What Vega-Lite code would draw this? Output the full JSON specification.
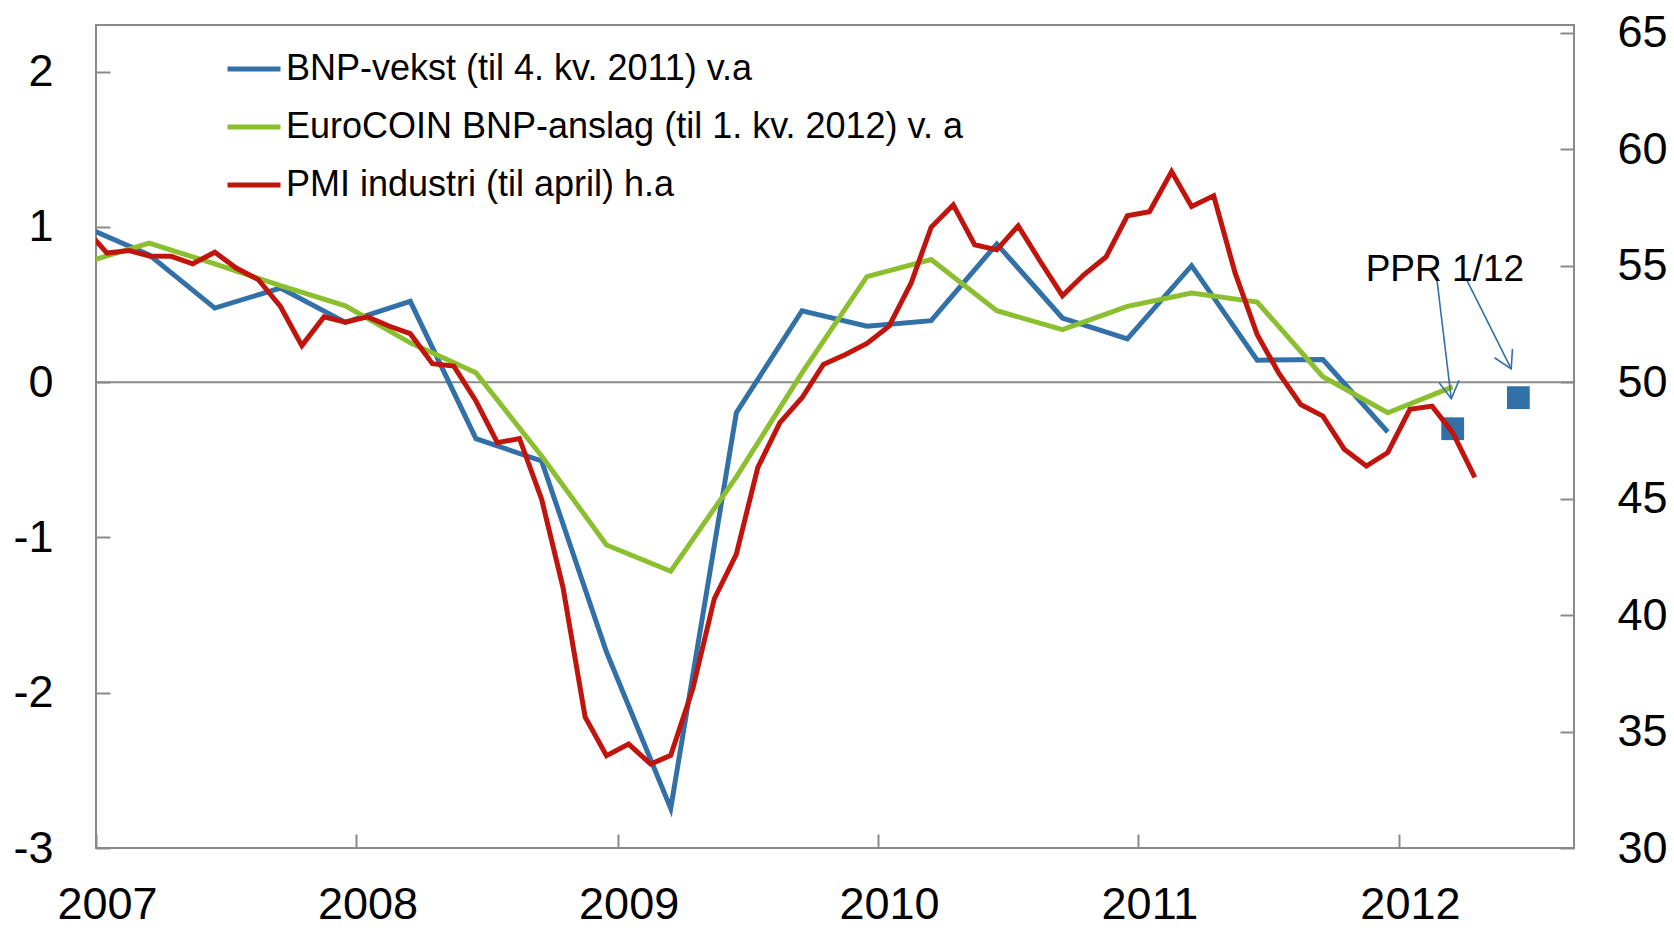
{
  "$schema": "https://vega.github.io/schema/vega-lite/v6.json",
  "width": 1478,
  "height": 823,
  "autosize": {"type": "none"},
  "padding": {"left": 96, "top": 25, "right": 100, "bottom": 80},
  "background": "white",
  "config": {
    "view": {"stroke": "#8a8a8a", "strokeWidth": 2},
    "font": "Liberation Sans",
    "axis": {
      "labelFont": "Liberation Sans",
      "labelFontSize": 45,
      "labelColor": "#000000",
      "tickColor": "#8a8a8a",
      "tickWidth": 2,
      "tickSize": -14,
      "domain": false,
      "grid": false,
      "labelFlush": false,
      "labelOverlap": false,
      "labelBound": false
    }
  },
  "datasets": {
    "gdp": [
      {"date": "2006-12-01", "series": "BNP-vekst (til 4. kv. 2011) v.a", "v": 1.0},
      {"date": "2007-03-01", "series": "BNP-vekst (til 4. kv. 2011) v.a", "v": 0.82},
      {"date": "2007-06-01", "series": "BNP-vekst (til 4. kv. 2011) v.a", "v": 0.477},
      {"date": "2007-09-01", "series": "BNP-vekst (til 4. kv. 2011) v.a", "v": 0.606},
      {"date": "2007-12-01", "series": "BNP-vekst (til 4. kv. 2011) v.a", "v": 0.385},
      {"date": "2008-03-01", "series": "BNP-vekst (til 4. kv. 2011) v.a", "v": 0.52},
      {"date": "2008-06-01", "series": "BNP-vekst (til 4. kv. 2011) v.a", "v": -0.364},
      {"date": "2008-09-01", "series": "BNP-vekst (til 4. kv. 2011) v.a", "v": -0.507},
      {"date": "2008-12-01", "series": "BNP-vekst (til 4. kv. 2011) v.a", "v": -1.738},
      {"date": "2009-03-01", "series": "BNP-vekst (til 4. kv. 2011) v.a", "v": -2.745},
      {"date": "2009-06-01", "series": "BNP-vekst (til 4. kv. 2011) v.a", "v": -0.197},
      {"date": "2009-09-01", "series": "BNP-vekst (til 4. kv. 2011) v.a", "v": 0.46},
      {"date": "2009-12-01", "series": "BNP-vekst (til 4. kv. 2011) v.a", "v": 0.36},
      {"date": "2010-03-01", "series": "BNP-vekst (til 4. kv. 2011) v.a", "v": 0.396},
      {"date": "2010-06-01", "series": "BNP-vekst (til 4. kv. 2011) v.a", "v": 0.89},
      {"date": "2010-09-01", "series": "BNP-vekst (til 4. kv. 2011) v.a", "v": 0.413},
      {"date": "2010-12-01", "series": "BNP-vekst (til 4. kv. 2011) v.a", "v": 0.279},
      {"date": "2011-03-01", "series": "BNP-vekst (til 4. kv. 2011) v.a", "v": 0.75},
      {"date": "2011-06-01", "series": "BNP-vekst (til 4. kv. 2011) v.a", "v": 0.141},
      {"date": "2011-09-01", "series": "BNP-vekst (til 4. kv. 2011) v.a", "v": 0.146},
      {"date": "2011-12-01", "series": "BNP-vekst (til 4. kv. 2011) v.a", "v": -0.321},
      {"date": "2006-12-01", "series": "EuroCOIN BNP-anslag (til 1. kv. 2012) v. a", "v": 0.77},
      {"date": "2007-03-01", "series": "EuroCOIN BNP-anslag (til 1. kv. 2012) v. a", "v": 0.895},
      {"date": "2007-06-01", "series": "EuroCOIN BNP-anslag (til 1. kv. 2012) v. a", "v": 0.762},
      {"date": "2007-09-01", "series": "EuroCOIN BNP-anslag (til 1. kv. 2012) v. a", "v": 0.621},
      {"date": "2007-12-01", "series": "EuroCOIN BNP-anslag (til 1. kv. 2012) v. a", "v": 0.492},
      {"date": "2008-03-01", "series": "EuroCOIN BNP-anslag (til 1. kv. 2012) v. a", "v": 0.253},
      {"date": "2008-06-01", "series": "EuroCOIN BNP-anslag (til 1. kv. 2012) v. a", "v": 0.06},
      {"date": "2008-09-01", "series": "EuroCOIN BNP-anslag (til 1. kv. 2012) v. a", "v": -0.475},
      {"date": "2008-12-01", "series": "EuroCOIN BNP-anslag (til 1. kv. 2012) v. a", "v": -1.049},
      {"date": "2009-03-01", "series": "EuroCOIN BNP-anslag (til 1. kv. 2012) v. a", "v": -1.218},
      {"date": "2009-06-01", "series": "EuroCOIN BNP-anslag (til 1. kv. 2012) v. a", "v": -0.61},
      {"date": "2009-09-01", "series": "EuroCOIN BNP-anslag (til 1. kv. 2012) v. a", "v": 0.06},
      {"date": "2009-12-01", "series": "EuroCOIN BNP-anslag (til 1. kv. 2012) v. a", "v": 0.68},
      {"date": "2010-03-01", "series": "EuroCOIN BNP-anslag (til 1. kv. 2012) v. a", "v": 0.79},
      {"date": "2010-06-01", "series": "EuroCOIN BNP-anslag (til 1. kv. 2012) v. a", "v": 0.46},
      {"date": "2010-09-01", "series": "EuroCOIN BNP-anslag (til 1. kv. 2012) v. a", "v": 0.338},
      {"date": "2010-12-01", "series": "EuroCOIN BNP-anslag (til 1. kv. 2012) v. a", "v": 0.488},
      {"date": "2011-03-01", "series": "EuroCOIN BNP-anslag (til 1. kv. 2012) v. a", "v": 0.574},
      {"date": "2011-06-01", "series": "EuroCOIN BNP-anslag (til 1. kv. 2012) v. a", "v": 0.516},
      {"date": "2011-09-01", "series": "EuroCOIN BNP-anslag (til 1. kv. 2012) v. a", "v": 0.035},
      {"date": "2011-12-01", "series": "EuroCOIN BNP-anslag (til 1. kv. 2012) v. a", "v": -0.197},
      {"date": "2012-03-01", "series": "EuroCOIN BNP-anslag (til 1. kv. 2012) v. a", "v": -0.03}
    ],
    "pmi": [
      {"date": "2006-12-01", "v": 56.6},
      {"date": "2007-01-01", "v": 55.54},
      {"date": "2007-02-01", "v": 55.65},
      {"date": "2007-03-01", "v": 55.42},
      {"date": "2007-04-01", "v": 55.4},
      {"date": "2007-05-01", "v": 55.08},
      {"date": "2007-06-01", "v": 55.58},
      {"date": "2007-07-01", "v": 54.9},
      {"date": "2007-08-01", "v": 54.4},
      {"date": "2007-09-01", "v": 53.25},
      {"date": "2007-10-01", "v": 51.57},
      {"date": "2007-11-01", "v": 52.8},
      {"date": "2007-12-01", "v": 52.57},
      {"date": "2008-01-01", "v": 52.8},
      {"date": "2008-02-01", "v": 52.4},
      {"date": "2008-03-01", "v": 52.08},
      {"date": "2008-04-01", "v": 50.79},
      {"date": "2008-05-01", "v": 50.69},
      {"date": "2008-06-01", "v": 49.19},
      {"date": "2008-07-01", "v": 47.4},
      {"date": "2008-08-01", "v": 47.58},
      {"date": "2008-09-01", "v": 44.98},
      {"date": "2008-10-01", "v": 41.19},
      {"date": "2008-11-01", "v": 35.63},
      {"date": "2008-12-01", "v": 33.96},
      {"date": "2009-01-01", "v": 34.46},
      {"date": "2009-02-01", "v": 33.6},
      {"date": "2009-03-01", "v": 33.98},
      {"date": "2009-04-01", "v": 36.84},
      {"date": "2009-05-01", "v": 40.69},
      {"date": "2009-06-01", "v": 42.62},
      {"date": "2009-07-01", "v": 46.33},
      {"date": "2009-08-01", "v": 48.26},
      {"date": "2009-09-01", "v": 49.33},
      {"date": "2009-10-01", "v": 50.76},
      {"date": "2009-11-01", "v": 51.19},
      {"date": "2009-12-01", "v": 51.66},
      {"date": "2010-01-01", "v": 52.4},
      {"date": "2010-02-01", "v": 54.26},
      {"date": "2010-03-01", "v": 56.65},
      {"date": "2010-04-01", "v": 57.61},
      {"date": "2010-05-01", "v": 55.9},
      {"date": "2010-06-01", "v": 55.68},
      {"date": "2010-07-01", "v": 56.71},
      {"date": "2010-08-01", "v": 55.18},
      {"date": "2010-09-01", "v": 53.71},
      {"date": "2010-10-01", "v": 54.61},
      {"date": "2010-11-01", "v": 55.37},
      {"date": "2010-12-01", "v": 57.14},
      {"date": "2011-01-01", "v": 57.32},
      {"date": "2011-02-01", "v": 59.04},
      {"date": "2011-03-01", "v": 57.54},
      {"date": "2011-04-01", "v": 58.0},
      {"date": "2011-05-01", "v": 54.69},
      {"date": "2011-06-01", "v": 52.04},
      {"date": "2011-07-01", "v": 50.4},
      {"date": "2011-08-01", "v": 49.04},
      {"date": "2011-09-01", "v": 48.54},
      {"date": "2011-10-01", "v": 47.12},
      {"date": "2011-11-01", "v": 46.4},
      {"date": "2011-12-01", "v": 46.98},
      {"date": "2012-01-01", "v": 48.83},
      {"date": "2012-02-01", "v": 48.97},
      {"date": "2012-03-01", "v": 47.83},
      {"date": "2012-04-01", "v": 45.91}
    ],
    "ppr": [
      {"date": "2012-03-01", "v": -0.3},
      {"date": "2012-06-01", "v": -0.1}
    ],
    "arrows": [
      {"id": "a1", "date": "2012-02-08", "v": 0.655, "date2": "2012-02-28", "v2": -0.107},
      {"id": "a2", "date": "2012-03-21", "v": 0.655, "date2": "2012-05-22", "v2": 0.086}
    ],
    "note": [
      {"date": "2011-10-31", "v": 0.649, "label": "PPR 1/12"}
    ]
  },
  "resolve": {"scale": {"y": "independent"}},
  "layer": [
    {
      "data": {"values": [{}]},
      "mark": {"type": "rule", "color": "#8a8a8a", "strokeWidth": 2},
      "encoding": {
        "y": {"datum": 0, "type": "quantitative", "scale": {"domain": [-3, 2.3], "nice": false, "zero": false}, "axis": null}
      }
    },
    {
      "data": {"name": "gdp"},
      "mark": {"type": "line", "strokeWidth": 5, "clip": true},
      "encoding": {
        "x": {
          "field": "date", "type": "temporal", "title": null,
          "scale": {"type": "utc", "domain": [{"year": 2006, "month": 12, "date": 16, "hours": 12, "utc": true}, {"year": 2012, "month": 8, "date": 18, "utc": true}]},
          "axis": {
            "orient": "bottom",
            "values": [
              {"year": 2007, "month": 1, "date": 1, "utc": true},
              {"year": 2008, "month": 1, "date": 1, "utc": true},
              {"year": 2009, "month": 1, "date": 1, "utc": true},
              {"year": 2010, "month": 1, "date": 1, "utc": true},
              {"year": 2011, "month": 1, "date": 1, "utc": true},
              {"year": 2012, "month": 1, "date": 1, "utc": true}
            ],
            "format": "%Y",
            "tickOffset": -11,
            "labelOffset": 11,
            "labelBaseline": "alphabetic",
            "labelAlign": "center",
            "labelPadding": 84
          }
        },
        "y": {
          "field": "v", "type": "quantitative", "title": null,
          "scale": {"domain": [-3, 2.3], "nice": false, "zero": false},
          "axis": {"orient": "left", "values": [-3, -2, -1, 0, 1, 2], "labelExpr": "'' + datum.value", "labelPadding": 57, "labelBaseline": "middle"}
        },
        "color": {
          "field": "series", "type": "nominal",
          "scale": {
            "domain": ["BNP-vekst (til 4. kv. 2011) v.a", "EuroCOIN BNP-anslag (til 1. kv. 2012) v. a", "PMI industri (til april) h.a"],
            "range": ["#3270A8", "#8CBF2F", "#C0140C"]
          },
          "legend": {
            "title": null,
            "orient": "none",
            "legendX": 129,
            "legendY": 15,
            "direction": "vertical",
            "symbolType": "stroke",
            "symbolSize": 2809,
            "symbolStrokeWidth": 5,
            "labelFont": "Liberation Sans",
            "labelFontSize": 36,
            "labelColor": "#000000",
            "labelOffset": 3,
            "labelLimit": 1200,
            "rowPadding": 11,
            "padding": 0
          }
        }
      }
    },
    {
      "data": {"name": "ppr"},
      "mark": {"type": "point", "shape": "square", "filled": true, "size": 520, "opacity": 1, "color": "#3270A8"},
      "encoding": {
        "x": {"field": "date", "type": "temporal", "title": null, "scale": {"type": "utc", "domain": [{"year": 2006, "month": 12, "date": 16, "hours": 12, "utc": true}, {"year": 2012, "month": 8, "date": 18, "utc": true}]}},
        "y": {"field": "v", "type": "quantitative", "axis": null, "scale": {"domain": [-3, 2.3], "nice": false, "zero": false}}
      }
    },
    {
      "data": {"name": "arrows"},
      "mark": {"type": "rule", "color": "#3270A8", "strokeWidth": 1.6},
      "encoding": {
        "x": {"field": "date", "type": "temporal", "title": null, "scale": {"type": "utc", "domain": [{"year": 2006, "month": 12, "date": 16, "hours": 12, "utc": true}, {"year": 2012, "month": 8, "date": 18, "utc": true}]}},
        "x2": {"field": "date2"},
        "y": {"field": "v", "type": "quantitative", "axis": null, "scale": {"domain": [-3, 2.3], "nice": false, "zero": false}},
        "y2": {"field": "v2"}
      }
    },
    {
      "data": {"name": "arrows"},
      "transform": [{"filter": "datum.id === 'a1'"}],
      "mark": {"type": "point", "shape": "M-0.5,-0.866L0,0L0.5,-0.866", "filled": false, "size": 1600, "angle": 352.8, "opacity": 1, "stroke": "#3270A8", "strokeWidth": 1.6},
      "encoding": {
        "x": {"field": "date2", "type": "temporal", "title": null, "scale": {"type": "utc", "domain": [{"year": 2006, "month": 12, "date": 16, "hours": 12, "utc": true}, {"year": 2012, "month": 8, "date": 18, "utc": true}]}},
        "y": {"field": "v2", "type": "quantitative", "axis": null, "scale": {"domain": [-3, 2.3], "nice": false, "zero": false}}
      }
    },
    {
      "data": {"name": "arrows"},
      "transform": [{"filter": "datum.id === 'a2'"}],
      "mark": {"type": "point", "shape": "M-0.5,-0.866L0,0L0.5,-0.866", "filled": false, "size": 1600, "angle": 333.6, "opacity": 1, "stroke": "#3270A8", "strokeWidth": 1.6},
      "encoding": {
        "x": {"field": "date2", "type": "temporal", "title": null, "scale": {"type": "utc", "domain": [{"year": 2006, "month": 12, "date": 16, "hours": 12, "utc": true}, {"year": 2012, "month": 8, "date": 18, "utc": true}]}},
        "y": {"field": "v2", "type": "quantitative", "axis": null, "scale": {"domain": [-3, 2.3], "nice": false, "zero": false}}
      }
    },
    {
      "data": {"name": "note"},
      "mark": {"type": "text", "align": "left", "baseline": "alphabetic", "font": "Liberation Sans", "fontSize": 37, "color": "#000000"},
      "encoding": {
        "x": {"field": "date", "type": "temporal", "title": null, "scale": {"type": "utc", "domain": [{"year": 2006, "month": 12, "date": 16, "hours": 12, "utc": true}, {"year": 2012, "month": 8, "date": 18, "utc": true}]}},
        "y": {"field": "v", "type": "quantitative", "axis": null, "scale": {"domain": [-3, 2.3], "nice": false, "zero": false}},
        "text": {"field": "label"}
      }
    },
    {
      "data": {"name": "pmi"},
      "mark": {"type": "line", "strokeWidth": 5, "clip": true},
      "encoding": {
        "x": {"field": "date", "type": "temporal", "title": null, "scale": {"type": "utc", "domain": [{"year": 2006, "month": 12, "date": 16, "hours": 12, "utc": true}, {"year": 2012, "month": 8, "date": 18, "utc": true}]}},
        "y": {
          "field": "v", "type": "quantitative", "title": null,
          "scale": {"domain": [30, 65.333], "nice": false, "zero": false},
          "axis": {"orient": "right", "values": [30, 35, 40, 45, 50, 55, 60, 65], "labelPadding": 57, "labelBaseline": "middle"}
        },
        "color": {"datum": "PMI industri (til april) h.a", "type": "nominal"}
      }
    }
  ]
}
